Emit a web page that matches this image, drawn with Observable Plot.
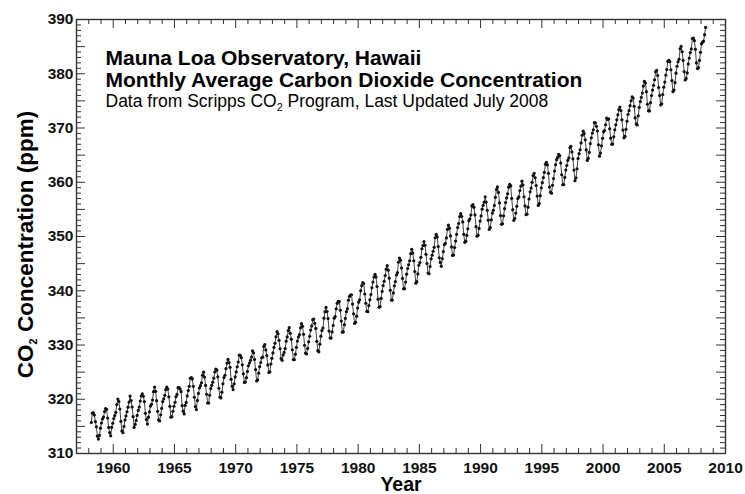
<!DOCTYPE html>
<html>
<head>
<meta charset="utf-8">
<script src="https://cdn.jsdelivr.net/npm/d3@7"></script>
<script src="https://cdn.jsdelivr.net/npm/@observablehq/plot@0.6"></script>
<style>
  html, body { margin: 0; padding: 0; background: #fff; }
</style>
</head>
<body>
<div id="chart"></div>
<script>
// Monthly average CO2 (ppm), Jan..Dec, Mauna Loa
const co2_1958 = [null, null, 315.71, 317.45, 317.50, 317.10, 315.86, 314.93, 313.20, 312.66, 313.33, 314.67];
const co2_1959 = [315.62, 316.38, 316.71, 317.72, 318.29, 318.15, 316.54, 314.80, 313.84, 313.26, 314.80, 315.58];
const co2_1960 = [316.43, 316.97, 317.58, 319.02, 320.03, 319.59, 318.18, 315.91, 314.16, 313.83, 315.00, 316.19];
const co2_1961 = [316.93, 317.70, 318.54, 319.48, 320.58, 319.77, 318.57, 316.79, 314.80, 315.38, 316.10, 317.01];
const co2_1962 = [317.94, 318.56, 319.68, 320.63, 321.01, 320.55, 319.58, 317.40, 316.26, 315.42, 316.69, 317.69];
const co2_1963 = [318.74, 319.08, 319.86, 321.39, 322.25, 321.47, 319.74, 317.77, 316.21, 315.99, 317.12, 318.31];
const co2_1964 = [319.57, 320.07, 320.73, 321.77, 322.25, 321.89, 320.44, 318.70, 316.70, 316.79, 317.79, 318.71];
const co2_1965 = [319.44, 320.44, 320.89, 322.13, 322.16, 321.87, 321.39, 318.81, 317.81, 317.30, 318.87, 319.42];
const co2_1966 = [320.62, 321.59, 322.39, 323.87, 324.01, 323.75, 322.39, 320.37, 318.64, 318.10, 319.79, 321.08];
const co2_1967 = [322.07, 322.50, 323.04, 324.42, 325.00, 324.09, 322.55, 320.92, 319.31, 319.31, 320.72, 321.96];
const co2_1968 = [322.57, 323.15, 323.89, 325.02, 325.57, 325.36, 324.14, 322.03, 320.41, 320.25, 321.31, 322.84];
const co2_1969 = [324.00, 324.42, 325.64, 326.66, 327.34, 326.76, 325.88, 323.67, 322.38, 321.78, 322.85, 324.11];
const co2_1970 = [325.03, 325.99, 326.87, 328.13, 328.07, 327.66, 326.35, 324.69, 323.10, 323.16, 323.98, 325.13];
const co2_1971 = [326.17, 326.68, 327.18, 327.78, 328.92, 328.57, 327.34, 325.46, 323.36, 323.57, 324.80, 326.01];
const co2_1972 = [326.77, 327.63, 327.75, 329.72, 330.07, 329.09, 328.05, 326.32, 324.93, 325.06, 326.50, 327.55];
const co2_1973 = [328.54, 329.56, 330.30, 331.50, 332.48, 332.07, 330.87, 329.31, 327.51, 327.18, 328.16, 328.64];
const co2_1974 = [329.35, 330.71, 331.48, 332.65, 333.20, 332.16, 331.07, 329.12, 327.32, 327.28, 328.30, 329.58];
const co2_1975 = [330.73, 331.46, 331.90, 333.17, 333.94, 333.45, 331.97, 329.95, 328.50, 328.34, 329.37, 330.58];
const co2_1976 = [331.59, 332.75, 333.52, 334.64, 334.77, 334.00, 333.06, 330.68, 328.95, 328.75, 330.15, 331.62];
const co2_1977 = [332.66, 333.13, 334.95, 336.13, 336.93, 336.17, 334.88, 332.56, 331.29, 331.27, 332.41, 333.60];
const co2_1978 = [334.95, 335.25, 336.66, 337.69, 338.03, 338.01, 336.41, 334.41, 332.37, 332.41, 333.75, 334.90];
const co2_1979 = [336.14, 336.69, 338.27, 338.95, 339.21, 339.26, 337.54, 335.75, 333.98, 334.19, 335.31, 336.81];
const co2_1980 = [337.90, 338.34, 340.01, 340.93, 341.48, 341.33, 339.40, 337.70, 336.19, 336.15, 337.27, 338.32];
const co2_1981 = [339.29, 340.55, 341.61, 342.53, 343.03, 342.54, 340.78, 338.44, 336.95, 337.08, 338.58, 339.88];
const co2_1982 = [340.96, 341.73, 342.81, 343.97, 344.63, 343.79, 342.32, 340.09, 338.28, 338.29, 339.60, 340.90];
const co2_1983 = [341.68, 342.90, 343.33, 345.25, 346.03, 345.63, 344.19, 342.27, 340.35, 340.38, 341.59, 343.05];
const co2_1984 = [344.10, 344.79, 345.52, 346.84, 347.63, 346.98, 345.53, 343.55, 341.40, 341.67, 343.10, 344.70];
const co2_1985 = [345.21, 346.16, 347.74, 348.34, 349.06, 348.38, 346.72, 345.02, 343.27, 343.13, 344.49, 345.88];
const co2_1986 = [346.56, 347.28, 348.01, 349.77, 350.38, 349.93, 348.16, 346.08, 345.22, 344.51, 345.93, 347.22];
const co2_1987 = [348.52, 348.73, 349.73, 351.31, 352.09, 351.53, 350.11, 348.08, 346.52, 346.59, 347.96, 349.16];
const co2_1988 = [350.39, 351.64, 352.40, 353.69, 354.21, 353.72, 352.69, 350.40, 348.92, 349.13, 350.20, 351.41];
const co2_1989 = [352.91, 353.27, 353.96, 355.64, 355.86, 355.37, 353.99, 351.81, 350.05, 350.25, 351.49, 352.85];
const co2_1990 = [353.80, 355.04, 355.73, 356.32, 357.32, 356.34, 354.84, 353.01, 351.31, 351.62, 353.07, 354.33];
const co2_1991 = [354.84, 355.73, 357.23, 358.66, 359.13, 358.13, 356.19, 353.85, 352.25, 352.35, 353.81, 355.12];
const co2_1992 = [356.25, 357.11, 357.86, 359.09, 359.59, 359.33, 357.01, 354.94, 352.96, 353.32, 354.32, 355.57];
const co2_1993 = [357.00, 357.31, 358.47, 359.27, 360.19, 359.52, 357.33, 355.64, 354.03, 354.12, 355.41, 356.91];
const co2_1994 = [358.24, 358.92, 359.99, 361.23, 361.65, 360.81, 359.38, 357.46, 355.73, 356.07, 357.53, 358.98];
const co2_1995 = [359.92, 360.86, 361.83, 363.30, 363.69, 363.19, 361.64, 359.12, 358.17, 357.99, 359.45, 360.68];
const co2_1996 = [362.07, 363.24, 364.17, 364.57, 365.13, 364.92, 363.55, 361.38, 359.54, 359.58, 360.89, 362.24];
const co2_1997 = [363.09, 364.03, 364.51, 366.35, 366.64, 365.59, 364.31, 362.25, 360.29, 360.82, 362.49, 364.38];
const co2_1998 = [365.26, 365.98, 367.24, 368.66, 369.42, 368.99, 367.82, 365.95, 364.02, 364.40, 365.52, 367.13];
const co2_1999 = [368.18, 369.07, 369.68, 370.99, 370.96, 370.30, 369.45, 366.90, 364.81, 365.37, 366.72, 368.10];
const co2_2000 = [369.29, 369.54, 370.60, 371.82, 371.58, 371.70, 369.86, 368.13, 367.00, 367.03, 368.37, 369.67];
const co2_2001 = [370.59, 371.51, 372.43, 373.37, 373.85, 373.21, 371.51, 369.61, 368.18, 368.45, 369.76, 371.24];
const co2_2002 = [372.53, 373.20, 374.12, 375.02, 375.76, 375.52, 374.01, 371.85, 370.75, 370.55, 372.25, 373.79];
const co2_2003 = [374.88, 375.64, 376.45, 377.73, 378.60, 378.28, 376.70, 374.38, 373.17, 373.14, 374.66, 375.99];
const co2_2004 = [377.00, 377.87, 378.88, 380.35, 380.62, 379.69, 377.47, 376.01, 374.25, 374.46, 376.16, 377.51];
const co2_2005 = [378.46, 379.73, 380.77, 382.29, 382.45, 382.21, 380.74, 378.74, 376.70, 377.00, 378.35, 380.11];
const co2_2006 = [381.38, 382.19, 382.67, 384.61, 385.03, 384.05, 382.46, 380.41, 378.85, 379.13, 380.15, 381.82];
const co2_2007 = [382.89, 383.90, 384.58, 386.50, 386.56, 386.10, 384.50, 381.99, 380.96, 381.12, 382.45, 383.95];
const co2_2008 = [385.52, 385.82, 386.03, 387.21, 388.54, null, null, null, null, null, null, null];

const years = [1958, 1959, 1960, 1961, 1962, 1963, 1964, 1965, 1966, 1967, 1968, 1969,
  1970, 1971, 1972, 1973, 1974, 1975, 1976, 1977, 1978, 1979,
  1980, 1981, 1982, 1983, 1984, 1985, 1986, 1987, 1988, 1989,
  1990, 1991, 1992, 1993, 1994, 1995, 1996, 1997, 1998, 1999,
  2000, 2001, 2002, 2003, 2004, 2005, 2006, 2007, 2008];
const series = [co2_1958, co2_1959, co2_1960, co2_1961, co2_1962, co2_1963, co2_1964, co2_1965, co2_1966, co2_1967,
  co2_1968, co2_1969, co2_1970, co2_1971, co2_1972, co2_1973, co2_1974, co2_1975, co2_1976, co2_1977,
  co2_1978, co2_1979, co2_1980, co2_1981, co2_1982, co2_1983, co2_1984, co2_1985, co2_1986, co2_1987,
  co2_1988, co2_1989, co2_1990, co2_1991, co2_1992, co2_1993, co2_1994, co2_1995, co2_1996, co2_1997,
  co2_1998, co2_1999, co2_2000, co2_2001, co2_2002, co2_2003, co2_2004, co2_2005, co2_2006, co2_2007, co2_2008];

const xMajorTicks = [1960, 1965, 1970, 1975, 1980, 1985, 1990, 1995, 2000, 2005, 2010];
const yLabelTicks = [310, 320, 330, 340, 350, 360, 370, 380, 390];
const yMidTicks = [315, 325, 335, 345, 355, 365, 375, 385];

const title1 = "Mauna Loa Observatory, Hawaii";
const title2 = "Monthly Average Carbon Dioxide Concentration";
const title3 = "Data from Scripps CO2 Program, Last Updated July 2008";
const yTitle = "CO2 Concentration (ppm)";
const xTitle = "Year";

const data = series.flatMap((vals, i) =>
  vals.map((v, m) => ({date: years[i] + (m + 0.5) / 12, co2: v}))
).filter(d => d.co2 != null);

const xMinorTicks = d3.range(1957, 2011).filter(t => !xMajorTicks.includes(t));
const yMinorTicks = d3.range(310, 391).filter(t => !yLabelTicks.includes(t) && !yMidTicks.includes(t));
const yLongTicks = yLabelTicks.concat(yMidTicks);

const FONT = "'Liberation Sans', Arial, Helvetica, sans-serif";
const tickColor = "#333";
const MINOR = 5, MAJOR = 9;

const W = 745, H = 494, ML = 76, MR = 20, MT = 19, MB = 41;
const innerW = W - ML - MR, innerH = H - MT - MB;

// inward-pointing tick marks as short rules inset from the opposite side of the frame
function ticksX(side, ticks, size) {
  return Plot.ruleX(ticks, {x: d => d, stroke: tickColor, strokeWidth: 1,
    insetTop: side === "bottom" ? innerH - size : 0,
    insetBottom: side === "top" ? innerH - size : 0});
}
function ticksY(side, ticks, size) {
  return Plot.ruleY(ticks, {y: d => d, stroke: tickColor, strokeWidth: 1,
    insetRight: side === "left" ? innerW - size : 0,
    insetLeft: side === "right" ? innerW - size : 0});
}

const chart = Plot.plot({
  width: W,
  height: H,
  marginLeft: ML,
  marginRight: MR,
  marginTop: MT,
  marginBottom: MB,
  style: {fontFamily: FONT},
  x: {domain: [1957, 2010]},
  y: {domain: [310, 390]},
  marks: [
    // tick labels
    Plot.axisX({anchor: "bottom", ticks: xMajorTicks, tickSize: 0, tickPadding: 8, tickFormat: d => String(d),
      label: null, fontSize: 15.5, fontWeight: "bold", fill: "#111"}),
    Plot.axisY({anchor: "left", ticks: yLabelTicks, tickSize: 0, tickPadding: 3, tickFormat: d => String(d),
      label: null, fontSize: 15.5, fontWeight: "bold", fill: "#111"}),
    // data
    Plot.line(data, {x: "date", y: "co2", stroke: "#444", strokeWidth: 1}),
    Plot.dot(data, {x: "date", y: "co2", r: 1.6, fill: "#111", stroke: "none"}),
    // titles inside the frame
    Plot.text([title1], {text: d => d, frameAnchor: "top-left", dx: 29, dy: 45, lineAnchor: "bottom",
      textAnchor: "start", fontSize: 21, fontWeight: "bold", fill: "#000"}),
    Plot.text([title2], {text: d => d, frameAnchor: "top-left", dx: 29, dy: 67, lineAnchor: "bottom",
      textAnchor: "start", fontSize: 21, fontWeight: "bold", fill: "#000"}),
    Plot.text([title3], {text: d => d, frameAnchor: "top-left", dx: 29, dy: 87, lineAnchor: "bottom",
      textAnchor: "start", fontSize: 17.5, fill: "#000"}),
    // axis titles
    Plot.text([xTitle], {text: d => d, frameAnchor: "bottom", dy: 37, lineAnchor: "bottom",
      textAnchor: "middle", fontSize: 19.5, fontWeight: "bold", fill: "#000"}),
    Plot.text([yTitle], {text: d => d, frameAnchor: "left", dx: -44, dy: 8, rotate: -90, lineAnchor: "bottom",
      textAnchor: "middle", fontSize: 22.5, fontWeight: "bold", fill: "#000"}),
    // inward ticks on all four sides, drawn on top
    ticksX("bottom", xMinorTicks, MINOR),
    ticksX("top", xMinorTicks, MINOR),
    ticksX("bottom", xMajorTicks, MAJOR),
    ticksX("top", xMajorTicks, MAJOR),
    ticksY("left", yMinorTicks, MINOR),
    ticksY("right", yMinorTicks, MINOR),
    ticksY("left", yLongTicks, MAJOR),
    ticksY("right", yLongTicks, MAJOR),
    Plot.frame({stroke: "#333", strokeWidth: 1.4})
  ]
});

// Render the "2" of CO2 as a subscript
d3.select(chart).selectAll("text").each(function() {
  const t = this.textContent;
  if (t && t.includes("CO2") && this.children.length === 0) {
    const fs = parseFloat(getComputedStyle(this).fontSize) || 16;
    const [a, b] = t.split("CO2");
    const sel = d3.select(this);
    sel.text(null);
    sel.append("tspan").text(a + "CO");
    sel.append("tspan").attr("font-size", (fs * 0.68).toFixed(1)).attr("dy", (fs * 0.28).toFixed(1)).text("2");
    sel.append("tspan").attr("dy", (-fs * 0.28).toFixed(1)).text(b);
  }
});

document.getElementById("chart").appendChild(chart);
</script>
</body>
</html>
